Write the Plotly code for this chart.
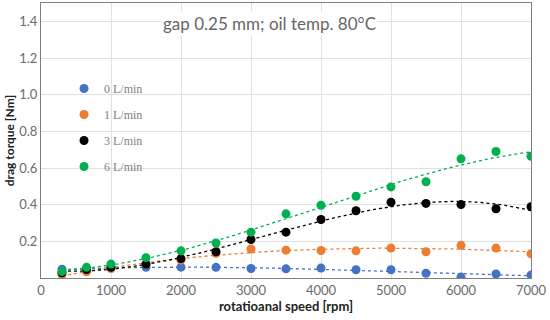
import numpy as np
import plotly.graph_objects as go

speed = [300, 650, 1000, 1500, 2000, 2500, 3000, 3500, 4000, 4500, 5000, 5500, 6000, 6500, 7000]
flow_0 = [0.048, 0.050, 0.055, 0.058, 0.059, 0.058, 0.052, 0.050, 0.054, 0.045, 0.045, 0.026, 0.005, 0.022, 0.016]
flow_1 = [0.018, 0.034, 0.052, 0.076, 0.098, 0.135, 0.158, 0.152, 0.150, 0.148, 0.163, 0.143, 0.178, 0.163, 0.132]
flow_3 = [0.028, 0.046, 0.058, 0.076, 0.106, 0.143, 0.210, 0.250, 0.319, 0.367, 0.413, 0.407, 0.401, 0.378, 0.389]
flow_6 = [0.035, 0.058, 0.076, 0.111, 0.148, 0.191, 0.250, 0.350, 0.397, 0.446, 0.497, 0.525, 0.650, 0.690, 0.664]

series = [
    ("0 L/min", flow_0, "#4472C4"),
    ("1 L/min", flow_1, "#ED7D31"),
    ("3 L/min", flow_3, "#000000"),
    ("6 L/min", flow_6, "#00B050"),
]

x_tick_vals = [0, 1000, 2000, 3000, 4000, 5000, 6000, 7000]
y_tick_vals = [0.2, 0.4, 0.6, 0.8, 1.0, 1.2, 1.4]
y_tick_text = ["0.2", "0.4", "0.6", "0.8", "1.0", "1.2", "1.4"]

fig = go.Figure()
xs = np.linspace(speed[0], speed[-1], 200)
for name, vals, col in series:
    coef = np.polyfit(speed, vals, 3)
    fig.add_trace(go.Scatter(x=xs, y=np.polyval(coef, xs), mode="lines",
                             line=dict(color=col, width=1.3, dash="dot"),
                             showlegend=False, hoverinfo="skip"))
for name, vals, col in series:
    fig.add_trace(go.Scatter(x=speed, y=vals, mode="markers", name=name,
                             legendgroup=name,
                             marker=dict(color=col, size=9)))

fig.add_annotation(x=0.467, y=0.926, xref="paper", yref="paper",
                   text="gap 0.25 mm; oil temp. 80°C", showarrow=False,
                   font=dict(family="Lato", size=17, color="#666666"),
                   bgcolor="white", xanchor="center", yanchor="middle")

fig.update_layout(
    width=550, height=320,
    margin=dict(l=41, r=19, t=3, b=42),
    paper_bgcolor="white", plot_bgcolor="white",
    font=dict(family="Lato", size=13, color="#6b6b6b"),
    legend=dict(x=0.047, y=0.742, xanchor="left", yanchor="top",
                bgcolor="rgba(0,0,0,0)", tracegroupgap=7,
                font=dict(family="Liberation Serif", size=12, color="#808080")),
    xaxis=dict(range=[0, 7000], tickvals=x_tick_vals, showgrid=True,
               gridcolor="#e0e0e0", linecolor="#7f7f7f", mirror=True,
               showline=True, zeroline=False, ticks="", automargin=False,
               title=dict(text="<b>rotatioanal speed [rpm]</b>", standoff=4,
                          font=dict(size=13, color="#222222"))),
    yaxis=dict(range=[0, 1.5], tickvals=y_tick_vals, ticktext=y_tick_text,
               showgrid=True, gridcolor="#e0e0e0", linecolor="#7f7f7f",
               mirror=True, showline=True, zeroline=False, ticks="",
               automargin=False,
               title=dict(text="<b>drag torque [Nm]</b>", standoff=2,
                          font=dict(size=12, color="#222222"))),
)

fig.write_html("out.html", config={"displayModeBar": False},
               post_script="document.body.style.margin='0';")
